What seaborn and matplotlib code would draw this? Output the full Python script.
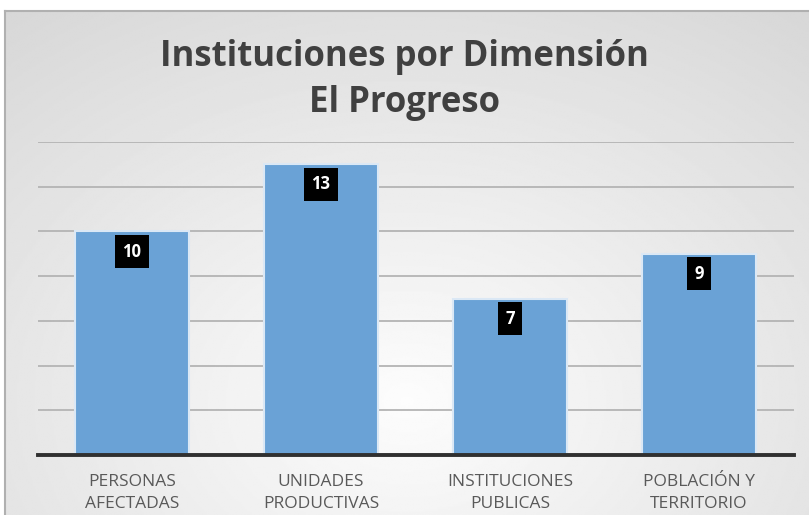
import numpy as np
import pandas as pd
import matplotlib
matplotlib.use("Agg")
import matplotlib.pyplot as plt
import seaborn as sns

categories = ["PERSONAS\nAFECTADAS", "UNIDADES\nPRODUCTIVAS", "INSTITUCIONES\nPUBLICAS", "POBLACIÓN Y\nTERRITORIO"]
values = [10, 13, 7, 9]
title = "Instituciones por Dimensión\nEl Progreso"

sns.set_theme(style="white")
plt.rcParams['font.family'] = ['Open Sans', 'DejaVu Sans']

W, H = 809, 515
fig = plt.figure(figsize=(W / 100, H / 100), dpi=100)
fig.patch.set_facecolor("white")

# gradient background panel
bg = fig.add_axes([5 / W, 0, 1 - 5 / W, (H - 11) / H])
yy, xx = np.mgrid[-1:1:300j, -1:1:500j]
r = np.sqrt((xx * 0.9) ** 2 + ((yy - 0.55) * 0.75) ** 2)
shade = 0.99 - 0.15 * np.clip(r, 0, 1.5) / 1.5
bg.imshow(shade, cmap="gray", vmin=0, vmax=1, aspect="auto", extent=[0, 1, 0, 1], origin="upper")
bg.set_xticks([]); bg.set_yticks([])
for s in ["top", "left"]:
    bg.spines[s].set_color("#b0b0b0"); bg.spines[s].set_linewidth(1.5)
for s in ["right", "bottom"]:
    bg.spines[s].set_visible(False)

ax = fig.add_axes([37.5 / W, (H - 455) / H, (793.5 - 37.5) / W, (455 - 142) / H])
ax.patch.set_alpha(0)
df = pd.DataFrame({"cat": categories, "val": values})
sns.barplot(data=df, x="cat", y="val", ax=ax, color="#6aa2d6", width=0.6,
            edgecolor="#dbe8f5", linewidth=1.5, saturation=1)
ax.set_ylim(0, 14)
ax.set_yticks(range(0, 15, 2))
ax.yaxis.grid(True, color="#b4b4b4", linewidth=1.3)
ax.set_axisbelow(True)
ax.set_yticklabels([])
ax.tick_params(axis="y", length=0)
ax.tick_params(axis="x", length=0, pad=14)
ax.set_xlabel(""); ax.set_ylabel("")
for s in ["top", "right", "left"]:
    ax.spines[s].set_visible(False)
ax.spines["bottom"].set_color("#303030")
ax.spines["bottom"].set_linewidth(2.8)
ax.set_xticklabels(categories, fontsize=12.5, color="#595959", linespacing=1.5)

for i, v in enumerate(values):
    ax.annotate(str(v), (i, v), xytext=(0, -14.5), textcoords="offset points",
                ha="center", va="center", color="white", fontsize=12, fontweight="bold",
                bbox=dict(boxstyle="square,pad=0.45", fc="black", ec="none"))

fig.text(0.5, 1 - 80 / H, title, ha="center", va="center", fontsize=25,
         fontweight="bold", color="#404040", linespacing=1.35)

fig.savefig("out.png", dpi=100)
